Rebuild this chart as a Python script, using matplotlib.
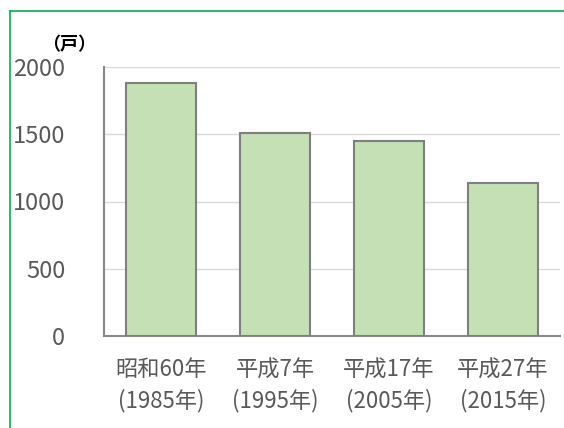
import matplotlib.pyplot as plt
from matplotlib.lines import Line2D

plt.rcParams['font.family'] = ['Noto Sans CJK JP', 'DejaVu Sans']

# 戸数の推移
categories = ["昭和60年\n(1985年)", "平成7年\n(1995年)", "平成17年\n(2005年)", "平成27年\n(2015年)"]
households = [1880, 1512, 1452, 1135]
yticks = [0, 500, 1000, 1500, 2000]

fig = plt.figure(figsize=(5.64, 4.28), dpi=100)
ax = fig.add_axes([104 / 564, 92 / 428, 456 / 564, 269 / 428])

x = range(len(categories))
ax.bar(x, households, width=0.62, color="#C5E0B4", edgecolor="#7F7F7F", linewidth=1.5, zorder=3)

ax.set_xlim(-0.5, len(categories) - 0.5)
ax.set_ylim(0, 2000)
ax.set_yticks(yticks)
ax.set_xticks(list(x))
ax.set_xticklabels(categories, linespacing=1.38)
ax.yaxis.grid(True, color="#D9D9D9", linewidth=1, zorder=0)
ax.tick_params(axis="y", length=0, pad=28, labelsize=17, labelcolor="#595959")
ax.tick_params(axis="x", length=0, pad=16, labelsize=16, labelcolor="#595959")

for side in ["top", "right"]:
    ax.spines[side].set_visible(False)
for side in ["left", "bottom"]:
    ax.spines[side].set_color("#898989")
    ax.spines[side].set_linewidth(1.5)

fig.text(69 / 564, 1 - 45 / 428, "（戸）", fontsize=13, fontweight="bold", ha="center", va="center", color="#000000")

# green frame around the chart
fig.add_artist(Line2D([10 / 564, 10 / 564], [0, 1 - 11 / 428], color="#00B050", linewidth=1.2))
fig.add_artist(Line2D([10 / 564, 1], [1 - 11 / 428, 1 - 11 / 428], color="#00B050", linewidth=1.2))

plt.savefig("out.png", dpi=100)
plt.close()
